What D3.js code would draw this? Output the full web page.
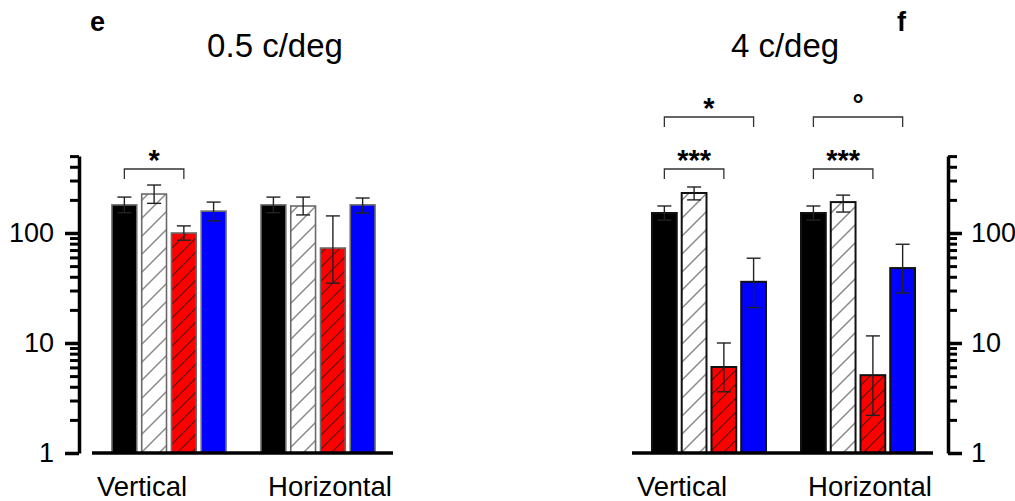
<!DOCTYPE html>
<html>
<head>
<meta charset="utf-8">
<script src="https://cdn.jsdelivr.net/npm/d3@7"></script>
<style>
  body { margin: 0; background: #fff; }
  text { font-family: "Liberation Sans", Arial, sans-serif; fill: #000; }
</style>
</head>
<body>
<div id="viz"></div>
<script>
// data
var groups = ["Vertical", "Horizontal"];
var series = ["black", "hatched", "red", "blue"];

// 0.5 c/deg
var mean05 = [[180, 226, 100, 158], [180, 176, 73, 180]];
var errHi05 = [[212, 273, 116, 191], [212, 212, 143, 208]];
var errLo05 = [[153, 186, 86, 129], [153, 146, 35, 152]];
var sig05 = [
    { group: 0, from: 0, to: 2, label: "*", level: 0 }
];

// 4 c/deg
var mean4 = [[152, 231, 6.05, 36], [152, 191, 5.1, 48]];
var errHi4 = [[176, 262, 10, 59], [176, 221, 11.6, 79]];
var errLo4 = [[131, 200, 3.6, 21], [131, 155, 2.2, 28.5]];
var sig4 = [
    { group: 0, from: 0, to: 2, label: "***", level: 0 },
    { group: 0, from: 0, to: 3, label: "*", level: 1 },
    { group: 1, from: 0, to: 2, label: "***", level: 0 },
    { group: 1, from: 0, to: 3, label: "\u00b0", level: 1 }
];

var majorTicks = [1, 10, 100];
var minorTicks = [2, 3, 4, 5, 6, 7, 8, 9, 20, 30, 40, 50, 60, 70, 80, 90, 200, 300, 400, 500];

var W = 1015, H = 501;
var svg = d3.select('#viz').append('svg')
    .attr('width', W)
    .attr('height', H);

var defs = svg.append('defs');
function hatch(id, bg, fg, sw, step) {
    var p = defs.append('pattern')
        .attr('id', id)
        .attr('patternUnits', 'userSpaceOnUse')
        .attr('width', step)
        .attr('height', step);
    p.append('rect').attr('width', step).attr('height', step).attr('fill', bg);
    var s = step;
    p.append('path')
        .attr('d', 'M-2,' + (s + 2) + ' L' + (s + 2) + ',-2 M-' + s / 2 + ',' + s / 2 + ' L' + s / 2 + ',-' + s / 2 +
            ' M' + s / 2 + ',' + (s * 1.5) + ' L' + (s * 1.5) + ',' + s / 2)
        .attr('stroke', fg)
        .attr('stroke-width', sw);
}
hatch('hatch-white', '#fff', '#8a8a8a', 1.5, 18);
hatch('hatch-red', '#ff0000', '#5a1010', 1.2, 14);

var fills = {
    black: '#000',
    hatched: 'url(#hatch-white)',
    red: 'url(#hatch-red)',
    blue: '#0000ff'
};

var y = d3.scaleLog().domain([1, 500]).range([453, 453 - 110 * Math.log10(500)]);

function drawPanel(opt) {
    var g = svg.append('g');
    var x0 = opt.x0;
    var xg = d3.scaleBand().domain(groups)
        .range([x0, x0 + 303])
        .paddingInner(0.235)
        .paddingOuter(0.134);
    var xs = d3.scaleBand().domain(series)
        .range([0, xg.bandwidth()])
        .paddingInner(0.167);

    function cx(gi, si) {
        return xg(groups[gi]) + xs(series[si]) + xs.bandwidth() / 2;
    }

    // bars
    groups.forEach(function(gr, gi) {
        series.forEach(function(s, si) {
            var v = opt.mean[gi][si];
            g.append('rect')
                .attr('x', xg(gr) + xs(s))
                .attr('y', y(v))
                .attr('width', xs.bandwidth())
                .attr('height', y(1) - y(v))
                .attr('fill', fills[s])
                .attr('stroke', opt.barStroke)
                .attr('stroke-width', opt.barStrokeW);
        });
    });

    // error bars
    groups.forEach(function(gr, gi) {
        series.forEach(function(s, si) {
            var c = cx(gi, si);
            var hi = y(opt.hi[gi][si]), lo = y(opt.lo[gi][si]);
            var eb = g.append('g')
                .attr('stroke', '#222')
                .attr('stroke-width', 1.4);
            eb.append('line').attr('x1', c).attr('x2', c).attr('y1', hi).attr('y2', lo);
            eb.append('line').attr('x1', c - 7).attr('x2', c + 7).attr('y1', hi).attr('y2', hi);
            eb.append('line').attr('x1', c - 7).attr('x2', c + 7).attr('y1', lo).attr('y2', lo);
        });
    });

    // baseline
    g.append('line')
        .attr('x1', x0).attr('x2', x0 + 301)
        .attr('y1', y(1)).attr('y2', y(1))
        .attr('stroke', '#000')
        .attr('stroke-width', 3.5);

    // significance brackets
    var levelY = [169, 117];
    opt.sig.forEach(function(b) {
        var a = cx(b.group, b.from), e = cx(b.group, b.to);
        var yy = levelY[b.level];
        g.append('path')
            .attr('d', 'M' + a + ',' + (yy + 10) + 'V' + yy + 'H' + e + 'V' + (yy + 10))
            .attr('fill', 'none')
            .attr('stroke', '#333')
            .attr('stroke-width', 1.3);
        var isDeg = b.label == '\u00b0';
        g.append('text')
            .attr('x', (a + e) / 2)
            .attr('y', isDeg ? yy - 3 : yy + 1)
            .attr('text-anchor', 'middle')
            .style('font-size', isDeg ? '28px' : '29px')
            .style('font-weight', 'bold')
            .text(b.label);
    });

    // y axis
    var axis = opt.axisRight ? d3.axisRight : d3.axisLeft;
    var ax = g.append('g')
        .attr('transform', 'translate(' + opt.axisX + ',0)');
    ax.append('g')
        .call(axis(y).tickValues(minorTicks).tickSize(9).tickFormat('').tickSizeOuter(0))
        .call(function(s) {
            s.select('.domain').remove();
            s.selectAll('line').attr('stroke', '#000').attr('stroke-width', 3);
        });
    ax.append('g')
        .call(axis(y).tickValues(majorTicks).tickSize(14).tickPadding(opt.axisRight ? 9 : 11)
            .tickFormat(d3.format('d')).tickSizeOuter(0))
        .call(function(s) {
            s.select('.domain').attr('stroke', '#000').attr('stroke-width', 3.5);
            s.selectAll('line').attr('stroke', '#000').attr('stroke-width', 3.5);
            s.selectAll('text')
                .style('font-size', '27px')
                .style('font-family', '"Liberation Sans", Arial, sans-serif')
                .attr('fill', '#000');
        });

    // group labels
    g.append('text')
        .attr('x', x0 + 50)
        .attr('y', 496)
        .attr('text-anchor', 'middle')
        .style('font-size', '27.5px')
        .text(groups[0]);
    g.append('text')
        .attr('x', x0 + 238)
        .attr('y', 496)
        .attr('text-anchor', 'middle')
        .style('font-size', '27.5px')
        .text(groups[1]);

    // title and panel letter
    g.append('text')
        .attr('x', opt.titleX)
        .attr('y', 57)
        .attr('text-anchor', 'middle')
        .style('font-size', '33px')
        .text(opt.title);
    g.append('text')
        .attr('x', opt.letterX)
        .attr('y', 31)
        .style('font-size', '27px')
        .style('font-weight', 'bold')
        .text(opt.letter);
}

drawPanel({
    x0: 92, axisX: 79, axisRight: false,
    mean: mean05, hi: errHi05, lo: errLo05, sig: sig05,
    barStroke: '#6a6a6a', barStrokeW: 1.6,
    title: '0.5 c/deg', titleX: 275, letter: 'e', letterX: 90
});
drawPanel({
    x0: 632, axisX: 948, axisRight: true,
    mean: mean4, hi: errHi4, lo: errLo4, sig: sig4,
    barStroke: '#111', barStrokeW: 2,
    title: '4 c/deg', titleX: 785, letter: 'f', letterX: 897
});
</script>
</body>
</html>
